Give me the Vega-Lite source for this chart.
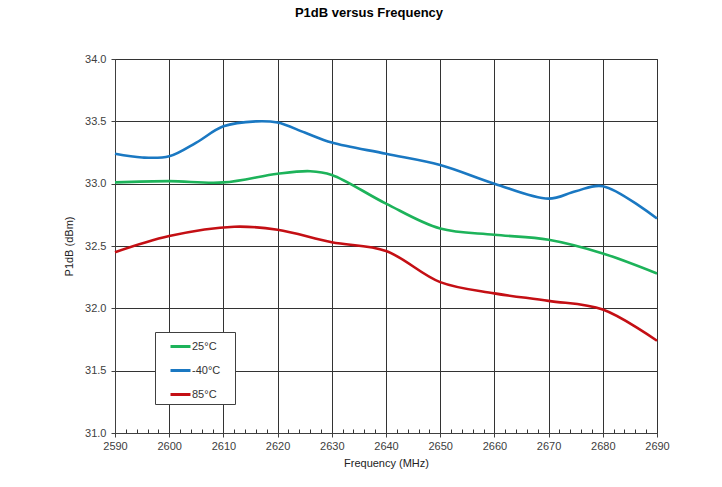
{
  "$schema": "https://vega.github.io/schema/vega-lite/v6.json",
  "width": 542,
  "height": 374,
  "autosize": {"type": "none"},
  "padding": {"left": 115, "top": 59, "right": 65, "bottom": 54},
  "background": "white",
  "title": {
    "text": "P1dB versus Frequency",
    "font": "Liberation Sans",
    "fontSize": 13,
    "fontWeight": "bold",
    "color": "#000000",
    "anchor": "middle",
    "frame": "group",
    "dx": -17,
    "baseline": "alphabetic",
    "offset": 23
  },
  "data": {
    "values": [
      {"freq": 2590, "temp": "-40°C", "p1db": 33.24},
      {"freq": 2595, "temp": "-40°C", "p1db": 33.21},
      {"freq": 2600, "temp": "-40°C", "p1db": 33.22},
      {"freq": 2605, "temp": "-40°C", "p1db": 33.33},
      {"freq": 2610, "temp": "-40°C", "p1db": 33.46},
      {"freq": 2616, "temp": "-40°C", "p1db": 33.50},
      {"freq": 2620, "temp": "-40°C", "p1db": 33.49},
      {"freq": 2625, "temp": "-40°C", "p1db": 33.41},
      {"freq": 2630, "temp": "-40°C", "p1db": 33.33},
      {"freq": 2640, "temp": "-40°C", "p1db": 33.24},
      {"freq": 2650, "temp": "-40°C", "p1db": 33.15},
      {"freq": 2660, "temp": "-40°C", "p1db": 33.00},
      {"freq": 2670, "temp": "-40°C", "p1db": 32.88},
      {"freq": 2675, "temp": "-40°C", "p1db": 32.94},
      {"freq": 2680, "temp": "-40°C", "p1db": 32.98},
      {"freq": 2690, "temp": "-40°C", "p1db": 32.72},
      {"freq": 2590, "temp": "25°C", "p1db": 33.01},
      {"freq": 2600, "temp": "25°C", "p1db": 33.02},
      {"freq": 2610, "temp": "25°C", "p1db": 33.01},
      {"freq": 2620, "temp": "25°C", "p1db": 33.08},
      {"freq": 2626, "temp": "25°C", "p1db": 33.10},
      {"freq": 2630, "temp": "25°C", "p1db": 33.07},
      {"freq": 2640, "temp": "25°C", "p1db": 32.84},
      {"freq": 2650, "temp": "25°C", "p1db": 32.64},
      {"freq": 2660, "temp": "25°C", "p1db": 32.59},
      {"freq": 2670, "temp": "25°C", "p1db": 32.55},
      {"freq": 2680, "temp": "25°C", "p1db": 32.44},
      {"freq": 2690, "temp": "25°C", "p1db": 32.28},
      {"freq": 2590, "temp": "85°C", "p1db": 32.45},
      {"freq": 2600, "temp": "85°C", "p1db": 32.58},
      {"freq": 2612, "temp": "85°C", "p1db": 32.655},
      {"freq": 2620, "temp": "85°C", "p1db": 32.63},
      {"freq": 2630, "temp": "85°C", "p1db": 32.53},
      {"freq": 2640, "temp": "85°C", "p1db": 32.46},
      {"freq": 2650, "temp": "85°C", "p1db": 32.21},
      {"freq": 2660, "temp": "85°C", "p1db": 32.12},
      {"freq": 2670, "temp": "85°C", "p1db": 32.06},
      {"freq": 2680, "temp": "85°C", "p1db": 31.99},
      {"freq": 2690, "temp": "85°C", "p1db": 31.74}
    ]
  },
  "resolve": {"axis": {"x": "independent"}},
  "layer": [
    {
      "mark": {"type": "line", "opacity": 0},
      "encoding": {
        "x": {
          "field": "freq",
          "type": "quantitative",
          "scale": {"domain": [2590, 2690], "nice": false, "zero": false},
          "axis": {
            "orient": "bottom",
            "title": null,
            "values": [2592,2594,2596,2598,2602,2604,2606,2608,2612,2614,2616,2618,2622,2624,2626,2628,2632,2634,2636,2638,2642,2644,2646,2648,2652,2654,2656,2658,2662,2664,2666,2668,2672,2674,2676,2678,2682,2684,2686,2688],
            "labels": false,
            "grid": false,
            "domain": false,
            "tickSize": -4,
            "tickColor": "#333333"
          }
        },
        "y": {
          "field": "p1db",
          "type": "quantitative",
          "scale": {"domain": [31, 34], "nice": false, "zero": false},
          "axis": {
            "title": "P1dB (dBm)",
            "values": [31, 31.5, 32, 32.5, 33, 33.5, 34],
            "format": ".1f",
            "tickSize": 4,
            "labelPadding": 5,
            "titlePadding": 10,
            "grid": true
          }
        },
        "detail": {"field": "temp"}
      }
    },
    {
      "mark": {"type": "line", "interpolate": "catmull-rom", "strokeWidth": 2.6},
      "encoding": {
        "x": {
          "field": "freq",
          "type": "quantitative",
          "scale": {"domain": [2590, 2690], "nice": false, "zero": false},
          "axis": {
            "orient": "bottom",
            "title": "Frequency (MHz)",
            "values": [2590,2600,2610,2620,2630,2640,2650,2660,2670,2680,2690],
            "format": "d",
            "grid": true,
            "tickSize": 4,
            "labelPadding": 3,
            "labelFlush": false,
            "labelOverlap": false,
            "titlePadding": 6
          }
        },
        "y": {
          "field": "p1db",
          "type": "quantitative",
          "scale": {"domain": [31, 34], "nice": false, "zero": false},
          "axis": {
            "title": "P1dB (dBm)",
            "values": [31, 31.5, 32, 32.5, 33, 33.5, 34],
            "format": ".1f",
            "tickSize": 4,
            "labelPadding": 5,
            "titlePadding": 10,
            "grid": true
          }
        },
        "color": {
          "field": "temp",
          "type": "nominal",
          "scale": {"domain": ["25°C", "-40°C", "85°C"], "range": ["#1db35a", "#1a78c2", "#c40f14"]},
          "legend": {
            "title": null,
            "orient": "none",
            "legendX": 40,
            "legendY": 273,
            "symbolType": "stroke",
            "symbolSize": 400,
            "symbolStrokeWidth": 3,
            "symbolOffset": 11,
            "labelOffset": 0,
            "padding": 3,
            "rowPadding": 6,
            "labelExpr": "datum.label + '\u2002\u2002\u200b'",
            "strokeColor": "#404040",
            "fillColor": "white",
            "labelFont": "Liberation Sans",
            "labelFontSize": 11,
            "labelColor": "#333333"
          }
        }
      }
    }
  ],
  "config": {
    "font": "Liberation Sans",
    "view": {"stroke": "#404040", "strokeWidth": 1},
    "axis": {
      "labelFont": "Liberation Sans",
      "labelFontSize": 11,
      "labelColor": "#404040",
      "titleFont": "Liberation Sans",
      "titleFontSize": 11,
      "titleFontWeight": "normal",
      "titleColor": "#222222",
      "domainColor": "#404040",
      "tickColor": "#404040",
      "gridColor": "#333333",
      "gridOpacity": 1,
      "gridWidth": 1
    }
  }
}
